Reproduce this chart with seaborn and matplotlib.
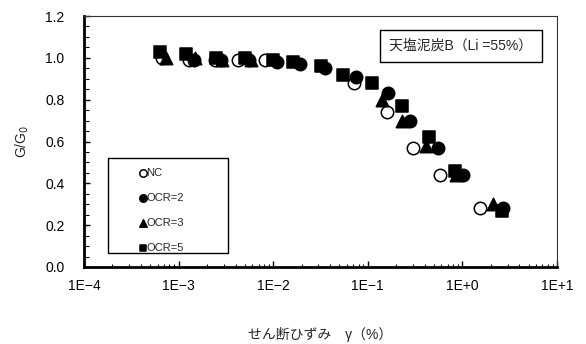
import matplotlib
matplotlib.use("Agg")
import matplotlib.pyplot as plt
import matplotlib.ticker as mticker
from matplotlib.patches import Rectangle
import pandas as pd
import seaborn as sns

# G/G0 versus shear strain for each consolidation state
nc_strain = [6.6e-4, 1.3e-3, 2.4e-3, 4.2e-3, 8.2e-3, 7.2e-2, 1.6e-1, 3.0e-1, 5.8e-1, 1.55]
nc_ratio = [1.00, 0.99, 0.99, 0.99, 0.99, 0.88, 0.74, 0.57, 0.44, 0.28]

ocr2_strain = [1.45e-3, 2.8e-3, 5.5e-3, 1.1e-2, 1.9e-2, 3.5e-2, 7.5e-2, 1.65e-1, 2.8e-1, 5.5e-1, 1.02, 2.7]
ocr2_ratio = [0.99, 0.99, 0.99, 0.98, 0.97, 0.95, 0.91, 0.83, 0.70, 0.57, 0.44, 0.28]

ocr3_strain = [7.4e-4, 1.5e-3, 2.9e-3, 5.8e-3, 1.4e-1, 2.3e-1, 4.1e-1, 8.5e-1, 2.1]
ocr3_ratio = [1.00, 1.00, 0.99, 0.99, 0.80, 0.70, 0.58, 0.44, 0.30]

ocr5_strain = [6.3e-4, 1.2e-3, 2.5e-3, 5.0e-3, 1.0e-2, 1.6e-2, 3.2e-2, 5.5e-2, 1.1e-1, 2.3e-1, 4.4e-1, 8.3e-1, 2.6]
ocr5_ratio = [1.03, 1.02, 1.00, 1.00, 0.99, 0.98, 0.96, 0.92, 0.88, 0.77, 0.62, 0.46, 0.27]

series_labels = ["NC", "OCR=2", "OCR=3", "OCR=5"]
x_tick_values = [1e-4, 1e-3, 1e-2, 1e-1, 1e0, 1e1]
x_tick_labels = ["1E\u22124", "1E\u22123", "1E\u22122", "1E\u22121", "1E+0", "1E+1"]
y_tick_values = [0.0, 0.2, 0.4, 0.6, 0.8, 1.0, 1.2]

frames = []
for lab, xs, ys in zip(series_labels,
                       [nc_strain, ocr2_strain, ocr3_strain, ocr5_strain],
                       [nc_ratio, ocr2_ratio, ocr3_ratio, ocr5_ratio]):
    frames.append(pd.DataFrame({"strain": xs, "ratio": ys, "state": lab}))
df = pd.concat(frames, ignore_index=True)

sns.set_theme(style="ticks")
plt.rcParams["font.family"] = ["Liberation Sans", "Noto Sans CJK JP", "DejaVu Sans"]
plt.rcParams["xtick.bottom"] = True
plt.rcParams["ytick.left"] = True

fig = plt.figure(figsize=(5.86, 3.44), dpi=100)
ax = fig.add_axes([84 / 586, 1 - 267 / 344, 473 / 586, 251 / 344])

styles = {
    "NC": dict(marker="o", facecolor="white"),
    "OCR=2": dict(marker="o", facecolor="black"),
    "OCR=3": dict(marker="^", facecolor="black"),
    "OCR=5": dict(marker="s", facecolor="black"),
}
sizes = {"NC": 80, "OCR=2": 80, "OCR=3": 80, "OCR=5": 70}

for lab in series_labels:
    sub = df[df["state"] == lab]
    sns.scatterplot(data=sub, x="strain", y="ratio", ax=ax,
                    marker=styles[lab]["marker"], color=styles[lab]["facecolor"],
                    edgecolor="black", linewidth=1.1, s=sizes[lab], label=lab,
                    legend=False, zorder=3)

ax.set_xscale("log")
ax.set_xlim(1e-4, 1e1)
ax.set_ylim(0, 1.2)
ax.xaxis.set_major_locator(mticker.FixedLocator(x_tick_values))
ax.xaxis.set_major_formatter(mticker.FixedFormatter(x_tick_labels))
ax.xaxis.set_minor_locator(mticker.LogLocator(base=10, subs=range(2, 10), numticks=20))
ax.xaxis.set_minor_formatter(mticker.NullFormatter())
ax.yaxis.set_major_locator(mticker.FixedLocator(y_tick_values))
ax.yaxis.set_major_formatter(mticker.FormatStrFormatter("%.1f"))
ax.yaxis.set_minor_locator(mticker.MultipleLocator(0.05))

ax.tick_params(which="major", direction="in", length=4, width=1, color="black",
               labelsize=10, labelcolor="black", bottom=True, left=True)
ax.tick_params(which="minor", direction="in", length=2.5, width=0.8, color="black",
               bottom=True, left=True)
ax.tick_params(axis="y", which="minor", length=3.5)
ax.tick_params(axis="x", which="major", pad=9)
ax.tick_params(axis="y", which="major", pad=14)

for side in ["left", "bottom"]:
    ax.spines[side].set_linewidth(2)
    ax.spines[side].set_color("black")
for side in ["top", "right"]:
    ax.spines[side].set_visible(True)
    ax.spines[side].set_linewidth(0.8)
    ax.spines[side].set_color("#333333")

ax.set_xlabel("せん断ひずみ　γ（%）", fontsize=10, labelpad=24)
ax.set_ylabel("G/G$_0$", fontsize=10, labelpad=10)

# legend box
ax.add_patch(Rectangle((24 / 473, (267 - 253) / 251), 120 / 473, 95 / 251,
                       transform=ax.transAxes, facecolor="white",
                       edgecolor="black", linewidth=1, zorder=4))
handles, labels = ax.get_legend_handles_labels()
leg = ax.legend(handles, labels, loc="upper left",
                bbox_to_anchor=(48 / 473, (267 - 160) / 251),
                frameon=False, fontsize=8, markerscale=0.6,
                handlelength=0.6, handletextpad=0.0, labelspacing=1.36,
                borderpad=0.2)
leg.set_zorder(5)

ax.text((461 - 84) / 473, (267 - 46) / 251,
        "天塩泥炭B（Li =55%）", transform=ax.transAxes, ha="center", va="center",
        fontsize=10, zorder=5,
        bbox=dict(boxstyle="square,pad=0.65", facecolor="white",
                  edgecolor="black", linewidth=1))

fig.savefig("out.png", dpi=100)
